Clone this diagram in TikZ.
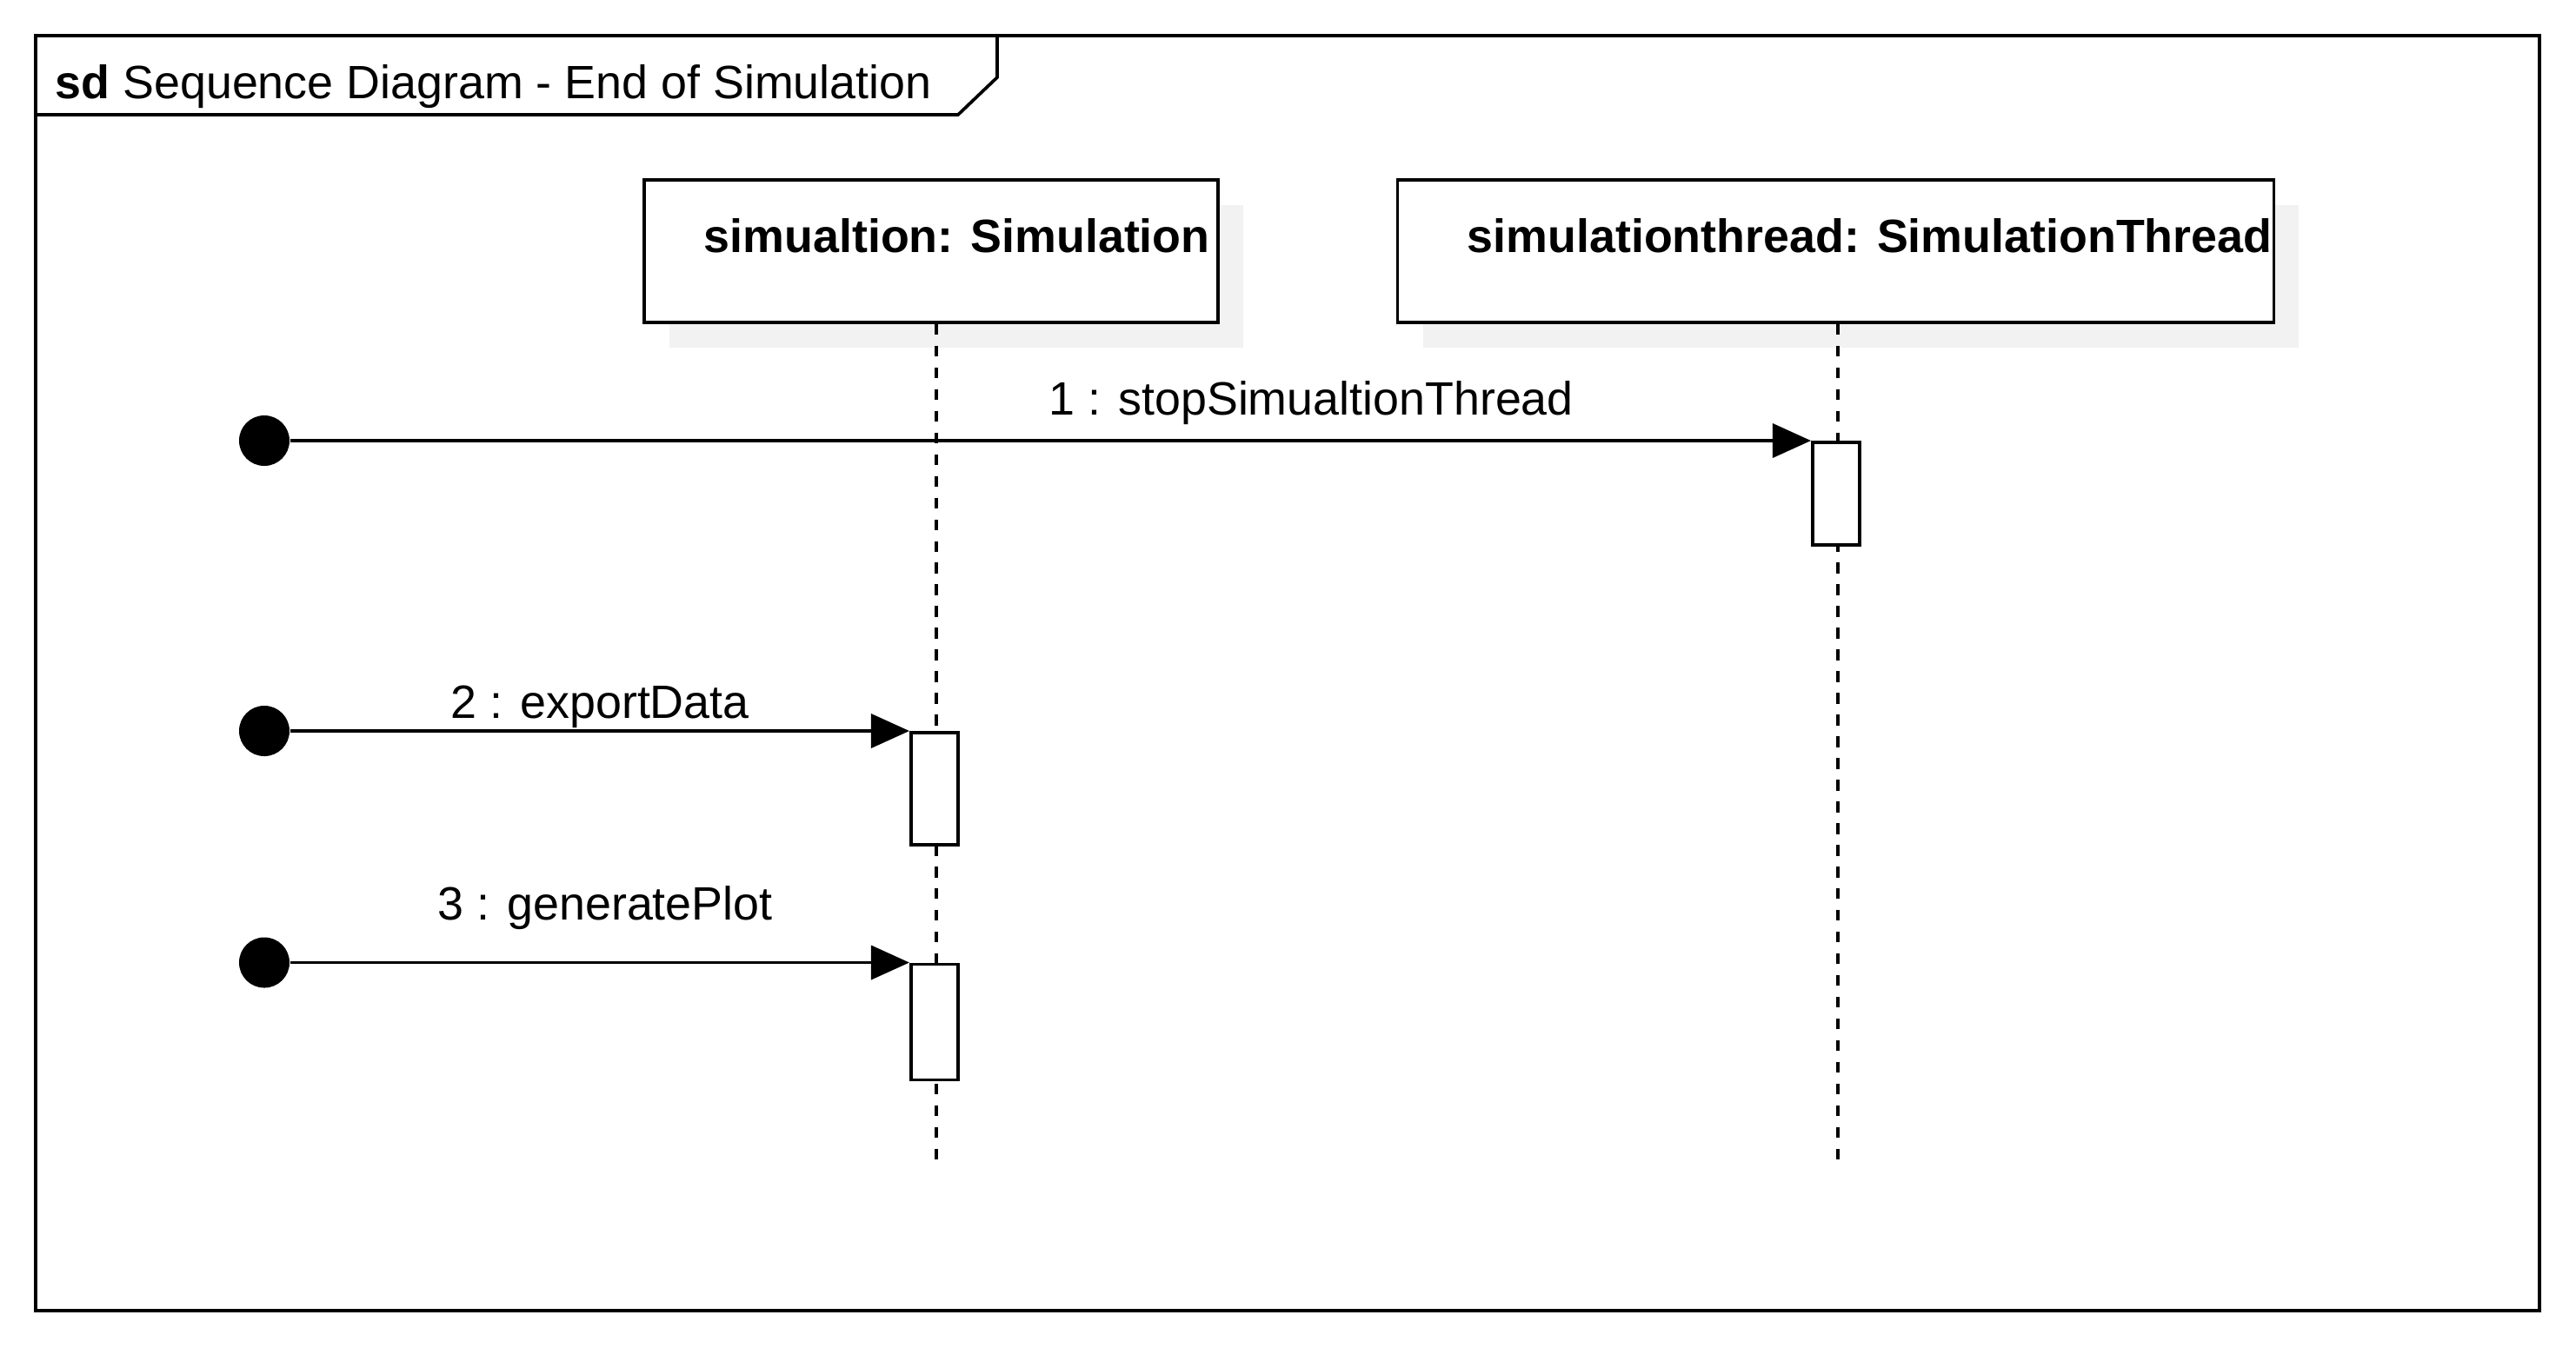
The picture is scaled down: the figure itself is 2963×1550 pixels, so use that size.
\documentclass[tikz,border=0pt]{standalone}
\usepackage{fontspec}
\setmainfont{Liberation Sans}
\usetikzlibrary{positioning,arrows.meta,calc,shadows}
\definecolor{shadowgray}{HTML}{F2F2F2}

\begin{document}
\begin{tikzpicture}[x=0.01cm, y=-0.01cm,
    every node/.style={font=\fontsize{15.3pt}{18pt}\selectfont, inner sep=0pt},
    frameline/.style={draw=black, line width=1.05pt, line join=miter},
    lifebox/.style={draw=black, line width=1pt, fill=white, minimum height=1.64cm,
      drop shadow={shadow xshift=0.29cm, shadow yshift=-0.29cm, fill=shadowgray, opacity=1}},
    lifeline/.style={draw=black, line width=0.95pt, dash pattern=on 3.55pt off 3.55pt},
    actbox/.style={draw=black, line width=1pt, fill=white, minimum width=0.54cm, anchor=north west},
    founddot/.style={circle, fill=black, minimum size=0.58cm},
    msg/.style={-{Triangle[length=0.44cm, width=0.39cm]}, line width=1pt}]
    \useasboundingbox (0,0) rectangle (2963,1550);

    % frame and its tab
    \draw[frameline] (41,41) rectangle (2921,1508);
    \draw[frameline] (41,132) -- (1102,132) -- (1147,89) -- (1147,41);
    \node[anchor=base west] (title) at (63,113) {\textbf{sd} Sequence Diagram - End of Simulation};

    % lifelines
    \node[lifebox, minimum width=6.6cm] (sim) at (1071,289) {};
    \node[lifebox, minimum width=10.07cm] (thread) at (2111.5,289) {};
    \node[anchor=base west] (simname) at (809,290) {\bfseries simualtion: Simulation};
    \node[anchor=base west] (threadname) at (1687,290) {\bfseries simulationthread: SimulationThread};
    \coordinate (simend) at (1077,1338);
    \coordinate (threadend) at (2114,1338);
    \draw[lifeline] (simend |- sim.south) -- (simend);
    \draw[lifeline] (threadend |- thread.south) -- (threadend);

    % activations
    \node[actbox, minimum height=1.18cm] (act1) at (2083,507) {};
    \node[actbox, minimum height=1.29cm] (act2) at (1046,841) {};
    \node[actbox, minimum height=1.33cm] (act3) at (1046,1107.5) {};

    % found messages
    \node[founddot] (start1) at (304,507) {};
    \node[founddot] (start2) at (304,841) {};
    \node[founddot] (start3) at (304,1107.5) {};
    \draw[msg] (start1.east) -- (act1.north west);
    \draw[msg] (start2.east) -- (act2.north west);
    \draw[msg] (start3.east) -- (act3.north west);
    \node[anchor=base west] (msg1) at (1206,477) {1 : stopSimualtionThread};
    \node[anchor=base west] (msg2) at (518,826.7) {2 : exportData};
    \node[anchor=base west] (msg3) at (503,1058) {3 : generatePlot};
\end{tikzpicture}
\end{document}
